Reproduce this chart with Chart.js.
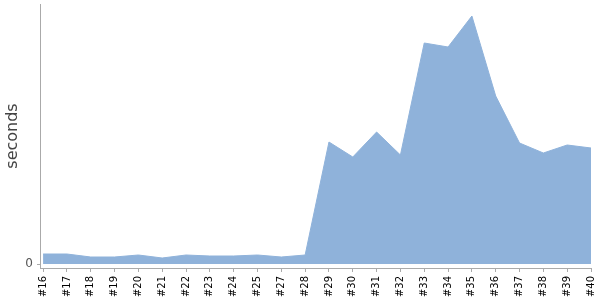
<!DOCTYPE html>
<html><head><meta charset="utf-8">
<script src="https://cdn.jsdelivr.net/npm/chart.js@4"></script>
<style>html,body{margin:0;padding:0;background:#fff}#wrap{width:600px;height:300px}</style>
</head><body><div id="wrap"><canvas id="c"></canvas></div>
<script>
const categories = ['#16','#17','#18','#19','#20','#21','#22','#23','#24','#25','#27','#28','#29','#30','#31','#32','#33','#34','#35','#36','#37','#38','#39','#40'];
const seconds = [10,10,7,7,9,6,9,8,8,9,7,9,122,107,132,109,221,217,248,168,121,111,119,116];
const yTickValues = [0];

const points = seconds.map((v,i)=>({x:i,y:v}));
new Chart(document.getElementById('c'), {
  type: 'line',
  data: { datasets: [{
    data: points,
    fill: 'origin',
    backgroundColor: '#8fb2da',
    borderColor: '#8fb2da',
    borderWidth: 1,
    pointRadius: 0,
    tension: 0
  }]},
  options: {
    responsive: true, maintainAspectRatio: false, animation: false,
    layout: { padding: { top: 4, right: 9, bottom: 0, left: 0 } },
    plugins: { legend: { display: false }, tooltip: { enabled: false } },
    scales: {
      x: {
        type: 'linear', min: -0.13, max: categories.length - 1,
        afterBuildTicks: s => { s.ticks = categories.map((_,i)=>({value:i})); },
        afterFit: s => { s.height = 32; s.paddingLeft = 0; s.paddingRight = 0; },
        grid: { display: true, drawOnChartArea: false, drawTicks: true, tickLength: 4, color: '#aaa' },
        border: { display: true, color: '#aaa' },
        ticks: { autoSkip: false, maxRotation: 90, minRotation: 90, padding: 4,
          color: '#000', font: { family: 'DejaVu Sans', size: 10 },
          callback: v => categories[v] }
      },
      y: {
        min: -4, max: 260,
        afterBuildTicks: s => { s.ticks = yTickValues.map(v=>({value:v})); },
        afterFit: s => { s.width = 40; s.paddingTop = 0; s.paddingBottom = 0; },
        grid: { display: true, drawOnChartArea: false, drawTicks: true, tickLength: 3, color: '#aaa' },
        border: { display: true, color: '#aaa' },
        ticks: { color: '#555', padding: 4, font: { family: 'DejaVu Sans', size: 12 } },
        title: { display: true, text: 'seconds', color: '#444', padding: {top:3,bottom:0},
          font: { family: 'DejaVu Sans', size: 16 } }
      }
    }
  }
});
</script></body></html>
